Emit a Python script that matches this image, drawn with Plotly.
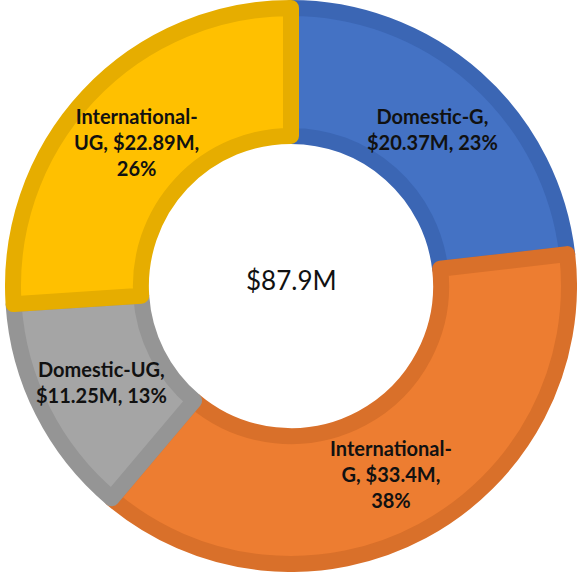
import math
import plotly.graph_objects as go

labels = ["Domestic-G", "International-G", "Domestic-UG", "International-UG"]
values = [20.37, 33.4, 11.25, 22.89]
fill_colors = ["#4472C4", "#ED7D31", "#A5A5A5", "#FFC000"]
border_colors = ["#3B66B4", "#D9702A", "#959595", "#E6AD00"]
label_lines = [
    ["Domestic-G,", "{v}, {p}"],
    ["International-", "G, {v},", "{p}"],
    ["Domestic-UG,", "{v}, {p}"],
    ["International-", "UG, {v},", "{p}"],
]

total = sum(values)
W, H = 577, 572
stroke = 16
cx, cy = 291, 287          # donut centre in px
label_r = 212              # label radius in px

fig = go.Figure(
    go.Pie(
        labels=labels,
        values=values,
        sort=False,
        direction="clockwise",
        rotation=0,
        hole=0.54,
        marker=dict(colors=fill_colors, line=dict(color=border_colors, width=stroke)),
        textinfo="none",
        showlegend=False,
        domain=dict(x=[(cx - 286) / W, 1.0], y=[8 / H, 1 - 8 / H]),
        hoverinfo="label+value+percent",
    )
)

cum = 0.0
for lab, val, lines in zip(labels, values, label_lines):
    mid = (cum + val / 2) / total * 2 * math.pi
    cum += val
    px = cx + label_r * math.sin(mid)
    py = cy - label_r * math.cos(mid)
    txt = "<br>".join(
        l.format(v=f"${val:g}M", p=f"{round(100 * val / total)}%") for l in lines
    )
    fig.add_annotation(
        text=txt, x=px / W, y=1 - py / H, xref="paper", yref="paper",
        xanchor="center", yanchor="middle",
        showarrow=False, align="center",
        font=dict(family="Lato", size=20, color="#111111", weight="bold"),
    )

fig.add_annotation(
    text=f"${total:.1f}M",
    x=cx / W, y=1 - 280 / H, xref="paper", yref="paper",
    xanchor="center", yanchor="middle",
    showarrow=False,
    font=dict(family="Lato", size=26, color="#111111"),
)

fig.update_layout(
    width=W, height=H,
    margin=dict(l=0, r=0, t=0, b=0),
    paper_bgcolor="white",
    plot_bgcolor="white",
)

fig.write_html(
    "out.html",
    config={"displayModeBar": False},
    post_script="document.body.style.margin='0';document.body.style.overflow='hidden';",
)
